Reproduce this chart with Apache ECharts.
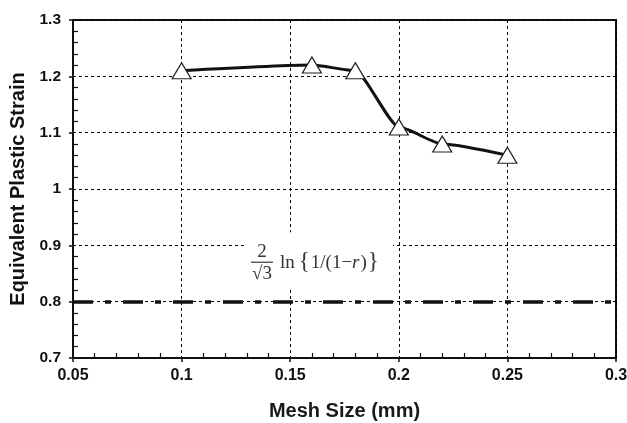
<!DOCTYPE html>
<html>
<head>
<meta charset="utf-8">
<script src="https://cdn.jsdelivr.net/npm/echarts@6/dist/echarts.min.js"></script>
<style>
  html, body { margin: 0; padding: 0; background: #fff; }
  #chart { width: 627px; height: 423px; }
</style>
</head>
<body>
<div id="chart"></div>
<script>
// Mesh sizes (mm) and the equivalent plastic strain computed at each
const meshSize = [0.1, 0.16, 0.18, 0.2, 0.22, 0.25];
const plasticStrain = [1.21, 1.22, 1.21, 1.11, 1.08, 1.06];

// Analytical reference level: (2/sqrt(3)) ln{1/(1-r)}
const analyticalStrain = 0.8;

// Axis ranges
const xRange = { min: 0.05, max: 0.3, step: 0.05 };
const yRange = { min: 0.7, max: 1.3, step: 0.1 };

const chart = echarts.init(document.getElementById('chart'), null, { renderer: 'canvas' });

const FONT = '"Liberation Sans", Arial, Helvetica, sans-serif';
const SERIF = '"Liberation Serif", "Times New Roman", serif';

const gridLine = { show: true, lineStyle: { color: '#000', width: 1, type: [3, 3] } };

const option = {
  backgroundColor: '#fff',
  animation: false,
  grid: {
    left: 73, right: 11, top: 20, bottom: 65,
    containLabel: false,
    outerBoundsMode: 'none',
    show: true, borderColor: '#111', borderWidth: 2, backgroundColor: 'transparent'
  },
  xAxis: {
    type: 'value',
    min: xRange.min, max: xRange.max, interval: xRange.step,
    name: 'Mesh Size (mm)',
    nameLocation: 'middle',
    nameGap: 43,
    nameTextStyle: { fontFamily: FONT, fontWeight: 'bold', fontSize: 20, color: '#1a1a1a' },
    axisLine: { show: true, lineStyle: { color: '#111', width: 2 } },
    axisTick: { show: true, inside: false, length: 4, lineStyle: { color: '#111', width: 1.5 } },
    minorTick: { show: true, splitNumber: 5, length: -5, lineStyle: { color: '#111', width: 1.2 } },
    axisLabel: {
      fontFamily: FONT, fontWeight: 'bold', fontSize: 16, color: '#111', margin: 10,
      formatter: v => String(+v.toFixed(2))
    },
    splitLine: gridLine
  },
  yAxis: {
    type: 'value',
    min: yRange.min, max: yRange.max, interval: yRange.step,
    name: 'Equivalent Plastic Strain',
    nameLocation: 'middle',
    nameGap: 43.5,
    nameTextStyle: { fontFamily: FONT, fontWeight: 'bold', fontSize: 20, color: '#111' },
    axisLine: { show: true, lineStyle: { color: '#111', width: 2 } },
    axisTick: { show: true, inside: false, length: 4, lineStyle: { color: '#111', width: 1.5 } },
    minorTick: { show: true, splitNumber: 5, length: -5, lineStyle: { color: '#111', width: 1.2 } },
    axisLabel: {
      fontFamily: FONT, fontWeight: 'bold', fontSize: 15.5, color: '#111', margin: 12,
      formatter: v => String(+v.toFixed(1))
    },
    splitLine: gridLine
  },
  series: [
    {
      type: 'line',
      data: meshSize.map((x, i) => [x, plasticStrain[i]]),
      smooth: 0.2,
      smoothMonotone: 'x',
      symbol: 'triangle',
      symbolSize: [19, 16],
      itemStyle: { color: '#fff', borderColor: '#222', borderWidth: 1.2 },
      lineStyle: { color: '#111', width: 3 },
      z: 5,
      markLine: {
        silent: true,
        symbol: 'none',
        label: { show: false },
        lineStyle: { color: '#111', width: 3.5, type: [20, 12, 6, 12] },
        data: [{ yAxis: analyticalStrain }]
      }
    }
  ]
};

chart.setOption(option);

// Equation label for the analytical line: pieces laid out left to right,
// each width measured so the glyphs sit next to one another.
const measureCtx = document.createElement('canvas').getContext('2d');
function textWidth(str, size, style) {
  measureCtx.font = (style || '') + ' ' + size + 'px ' + SERIF;
  return measureCtx.measureText(str).width;
}

const eqPieces = [
  { text: 'ln', size: 19, gapAfter: 4 },
  { text: '{', size: 23, gapAfter: 1, dy: -1 },
  { text: '1/(1\u2212', size: 19 },
  { text: 'r', size: 19, style: 'italic', gapAfter: 1 },
  { text: ')', size: 19, gapAfter: 1 },
  { text: '}', size: 23, dy: -1 }
];

const anchor = chart.convertToPixel({ gridIndex: 0 }, [0.137, 0.870]);
const children = [
  // white panel behind the formula, hiding the grid lines under it
  { type: 'rect', shape: { x: -15, y: -30, width: 146, height: 57 }, style: { fill: '#fff' } },
  { type: 'text', x: 0, y: -10, style: { text: '2', fontFamily: SERIF, fontSize: 19, fill: '#333', textAlign: 'center', textVerticalAlign: 'middle' } },
  { type: 'line', shape: { x1: -11, y1: 0, x2: 11, y2: 0 }, style: { stroke: '#444', lineWidth: 1.3 } },
  { type: 'text', x: 0, y: 12, style: { text: '\u221A3', fontFamily: SERIF, fontSize: 19, fill: '#333', textAlign: 'center', textVerticalAlign: 'middle' } }
];
let cursor = 18;
eqPieces.forEach(p => {
  children.push({
    type: 'text', x: cursor, y: 1 + (p.dy || 0),
    style: {
      text: p.text, fontFamily: SERIF, fontSize: p.size, fontStyle: p.style || 'normal',
      fill: '#333', textAlign: 'left', textVerticalAlign: 'middle'
    }
  });
  cursor += textWidth(p.text, p.size, p.style) + (p.gapAfter || 0);
});

chart.setOption({
  graphic: [{ type: 'group', x: anchor[0], y: anchor[1], children: children }]
});
</script>
</body>
</html>
